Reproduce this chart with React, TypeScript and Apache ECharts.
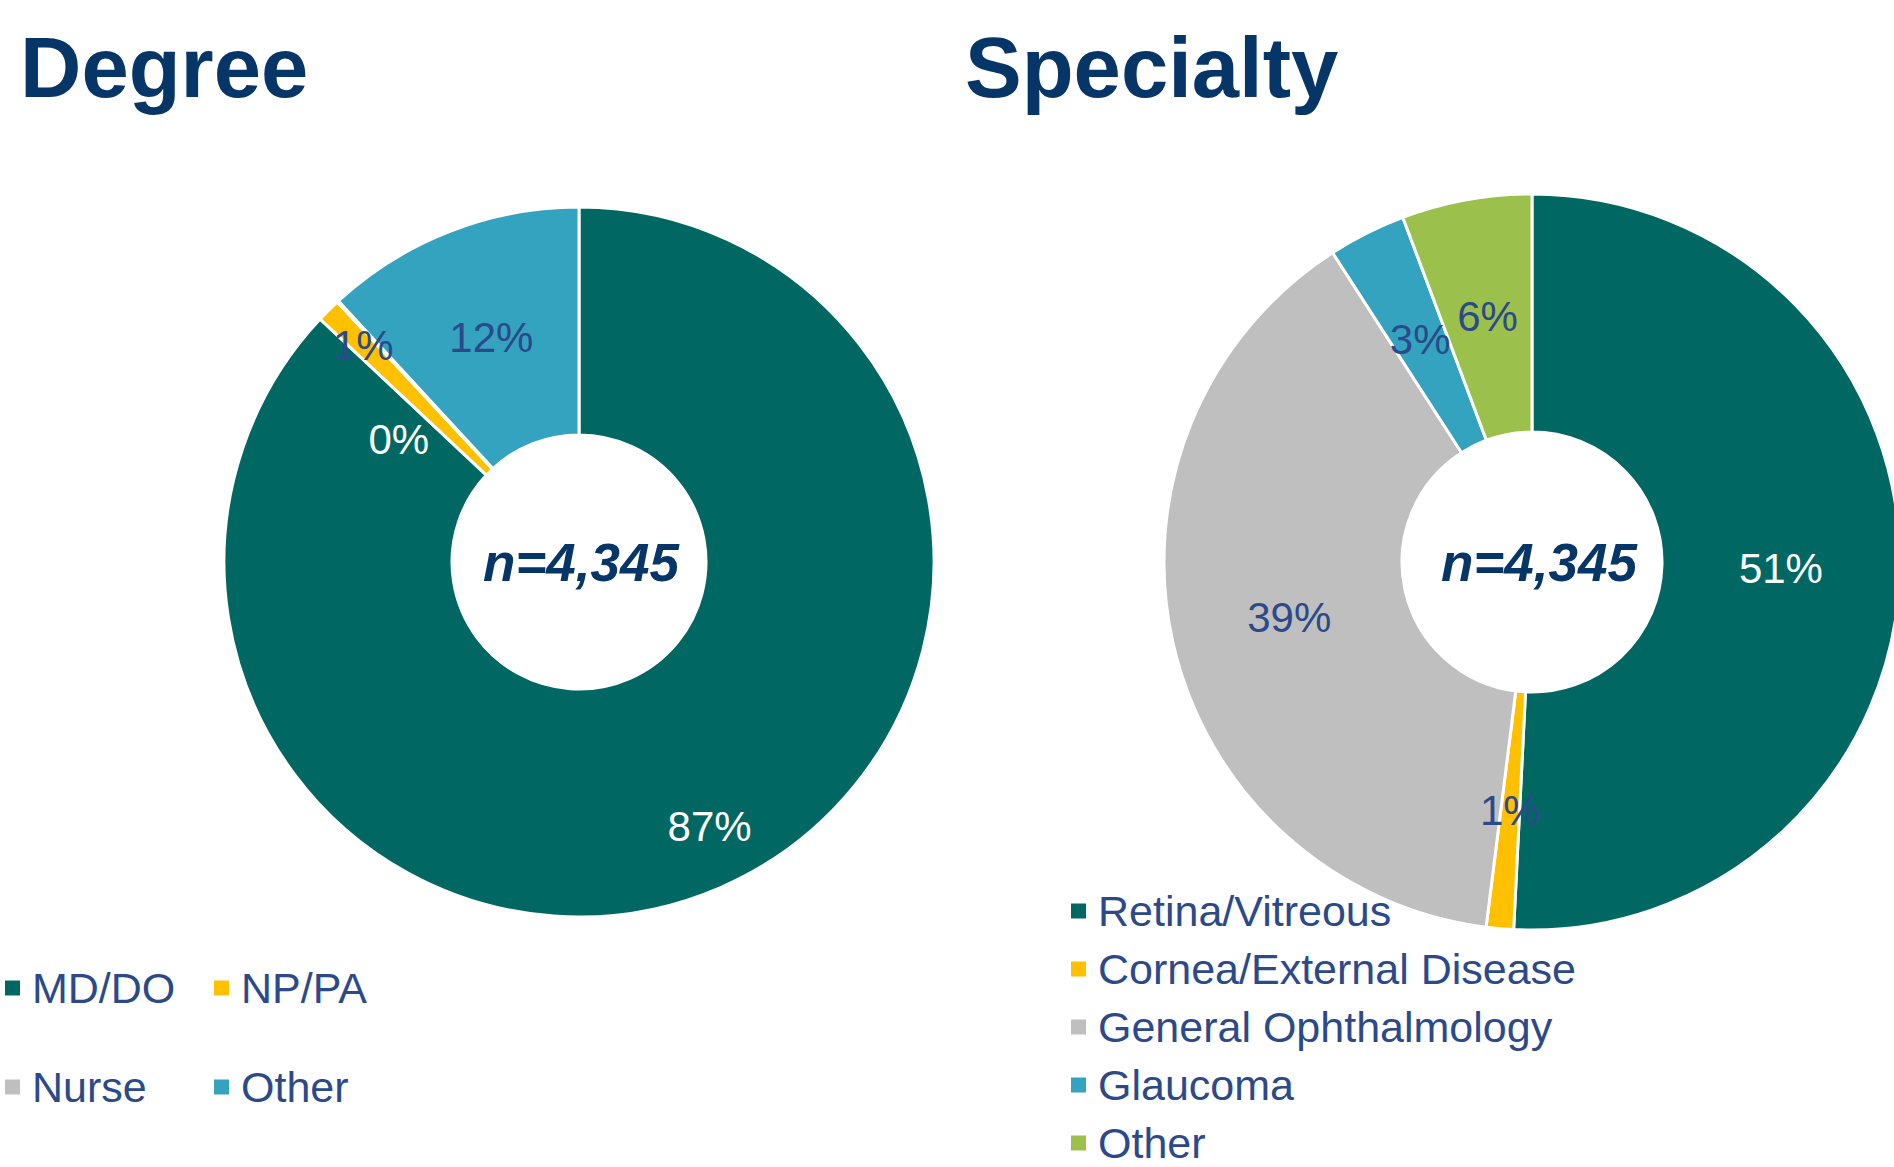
import React, { useEffect, useRef } from "react";
import * as echarts from "echarts";

// ---- Data ----
const degreeNames = ["MD/DO", "NP/PA", "Nurse", "Other"];
const degreeCounts = [3780, 47, 3, 515];
const specialtyNames = [
  "Retina/Vitreous",
  "Cornea/External Disease",
  "General Ophthalmology",
  "Glaucoma",
  "Other",
];
const specialtyCounts = [2207, 52, 1690, 148, 248];
const chartTitles = ["Degree", "Specialty"];

// ---- Styles ----
const FONT = "'Liberation Sans', Arial, sans-serif";
const NAVY = "#063567";
const LABEL_NAVY = "#2C4A8A";
const degreeColors = ["#016763", "#FFC000", "#BFBFBF", "#33A3C0"];
const specialtyColors = ["#016763", "#FFC000", "#BFBFBF", "#33A3C0", "#9BC04B"];
const degreeLabelColors = ["#FFFFFF", LABEL_NAVY, "#FFFFFF", LABEL_NAVY];
const specialtyLabelColors = ["#FFFFFF", LABEL_NAVY, LABEL_NAVY, LABEL_NAVY, LABEL_NAVY];

const LEFT = { cx: 579, cy: 562, r0: 127, r: 355 };
const RIGHT = { cx: 1532, cy: 562, r0: 130, r: 368 };

// label radial tweaks (fraction of outer radius) and angle nudges, per slice
const degreeLabelTweaks = [{ r: 0.83, da: -2.9 }, { r: 0.862 }, { r: 0.614, da: -13 }, {}];
const specialtyLabelTweaks = [{}, {}, {}, {}, {}];

const sum = (a: number[]) => a.reduce((s, v) => s + v, 0);

function makeLayout(values: number[], g: any, tweaks: any[]) {
  const total = sum(values);
  let acc = 0;
  const mids = values.map((v) => {
    const m = ((acc + v / 2) / total) * 360;
    acc += v;
    return m;
  });
  return (p: any) => {
    const i = p.dataIndex;
    const t = tweaks[i] || {};
    const rr = t.r != null ? t.r * g.r : (g.r0 + g.r) / 2;
    const a = ((mids[i] + (t.da || 0)) * Math.PI) / 180;
    return {
      x: g.cx + rr * Math.sin(a),
      y: g.cy - rr * Math.cos(a),
      align: "center",
      verticalAlign: "middle",
    };
  };
}

function pieSeries(names: string[], values: number[], colors: string[], labelColors: string[], g: any, tweaks: any[]) {
  return {
    type: "pie",
    center: [g.cx, g.cy],
    radius: [g.r0, g.r],
    startAngle: 90,
    clockwise: true,
    avoidLabelOverlap: false,
    silent: true,
    emphasis: { disabled: true },
    itemStyle: { borderColor: "#FFFFFF", borderWidth: 3 },
    label: {
      show: true,
      position: "inside",
      fontSize: 42,
      fontFamily: FONT,
      formatter: (p: any) => Math.round(p.percent) + "%",
    },
    labelLine: { show: false },
    labelLayout: makeLayout(values, g, tweaks),
    data: names.map((n, i) => ({
      name: n,
      value: values[i],
      itemStyle: { color: colors[i] },
      label: { color: labelColors[i] },
    })),
  };
}

const legendText = {
  fontSize: 43,
  color: LABEL_NAVY,
  fontFamily: FONT,
  lineHeight: 48,
  padding: [0, 0, 0, 6],
};

const legendBase = {
  itemWidth: 17,
  itemHeight: 17,
  icon: "rect",
  selectedMode: false,
  padding: 0,
};

export default function App() {
  const ref = useRef<HTMLDivElement>(null);
  useEffect(() => {
    document.body.style.margin = "0";
    const chart = echarts.init(ref.current!, null, { renderer: "svg" });
    const nTotal = sum(degreeCounts);
    const nTotal2 = sum(specialtyCounts);
    const titleStyle = { fontSize: 85, fontWeight: "bold", color: NAVY, fontFamily: FONT };
    const nFont = `italic bold 53px ${FONT}`;
    chart.setOption({
      animation: false,
      textStyle: { fontFamily: FONT },
      title: [
        { text: chartTitles[0], left: 20, top: 25, padding: 0, textStyle: titleStyle },
        { text: chartTitles[1], left: 965, top: 25, padding: 0, textStyle: titleStyle },
      ],
      legend: [
        {
          ...legendBase,
          data: [0, 1].map((i) => ({ name: degreeNames[i], itemStyle: { color: degreeColors[i] } })),
          orient: "horizontal",
          left: 3,
          top: 964,
          itemGap: 30,
          textStyle: { ...legendText, width: 150 },
        },
        {
          ...legendBase,
          data: [2, 3].map((i) => ({ name: degreeNames[i], itemStyle: { color: degreeColors[i] } })),
          orient: "horizontal",
          left: 3,
          top: 1063,
          itemGap: 30,
          textStyle: { ...legendText, width: 150 },
        },
        {
          ...legendBase,
          data: specialtyNames.map((n, i) => ({ name: n, itemStyle: { color: specialtyColors[i] } })),
          orient: "vertical",
          left: 1069,
          top: 887,
          height: 400,
          itemGap: 10,
          textStyle: legendText,
        },
      ],
      graphic: [
        {
          type: "text",
          x: LEFT.cx + 2,
          y: LEFT.cy,
          silent: true,
          style: {
            text: "n=" + nTotal.toLocaleString("en-US"),
            font: nFont,
            fill: NAVY,
            align: "center",
            verticalAlign: "middle",
          },
        },
        {
          type: "text",
          x: RIGHT.cx + 7,
          y: RIGHT.cy,
          silent: true,
          style: {
            text: "n=" + nTotal2.toLocaleString("en-US"),
            font: nFont,
            fill: NAVY,
            align: "center",
            verticalAlign: "middle",
          },
        },
      ],
      series: [
        pieSeries(degreeNames, degreeCounts, degreeColors, degreeLabelColors, LEFT, degreeLabelTweaks),
        pieSeries(specialtyNames, specialtyCounts, specialtyColors, specialtyLabelColors, RIGHT, specialtyLabelTweaks),
      ],
    });
    return () => chart.dispose();
  }, []);
  return <div ref={ref} style={{ width: 1894, height: 1167 }} />;
}
